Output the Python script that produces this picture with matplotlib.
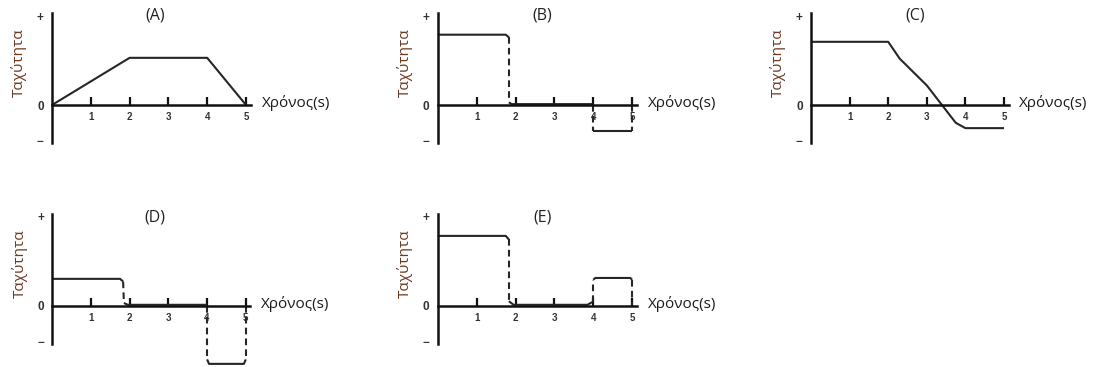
import matplotlib
matplotlib.use("Agg")
import matplotlib.pyplot as plt

# ---------------- data ----------------
panel_titles = ["(A)", "(B)", "(C)", "(D)", "(E)"]
x_ticks = [1, 2, 3, 4, 5]
x_tick_labels = ["1", "2", "3", "4", "5"]
y_tick_values = [-0.4, 0.0, 1.0]
y_tick_labels = ["\u2212", "0", "+"]
y_label = "Ταχύτητα"
x_label = "Χρόνος(s)"

# (A)
a_t = [0, 2, 4, 5]
a_v = [0, 0.53, 0.53, 0]
# (B)
b_solid = [([0, 1.75, 1.83], [0.79, 0.79, 0.76]),
           ([1.83, 1.9, 4.0], [0.03, 0.01, 0.01]),
           ([4.0, 5.0], [-0.29, -0.29])]
b_dashed = [([1.83, 1.83], [0.76, 0.03]),
            ([4.0, 4.0], [0.0, -0.29]),
            ([5.0, 5.0], [0.0, -0.29])]
# (C)
c_t = [0, 2, 2.3, 3, 3.75, 4, 5]
c_v = [0.71, 0.71, 0.52, 0.22, -0.2, -0.26, -0.26]
# (D)
d_solid = [([0, 1.75, 1.83], [0.30, 0.30, 0.27]),
           ([1.85, 1.95, 4.0], [0.03, 0.01, 0.01]),
           ([4.0, 4.05, 4.95, 5.0], [-0.6, -0.65, -0.65, -0.6])]
d_dashed = [([1.83, 1.85], [0.27, 0.03]),
            ([4.0, 4.0], [0.0, -0.6]),
            ([5.0, 5.0], [0.0, -0.6])]
# (E)
e_solid = [([0, 1.75, 1.83], [0.78, 0.78, 0.74]),
           ([1.83, 1.95, 3.85, 3.97], [0.05, 0.01, 0.01, 0.04]),
           ([4.0, 4.05, 4.95, 5.0], [0.29, 0.31, 0.31, 0.29])]
e_dashed = [([1.83, 1.83], [0.74, 0.05]),
            ([4.0, 4.0], [0.04, 0.29]),
            ([5.0, 5.0], [0.29, 0.0])]

# ---------------- layout ----------------
W, H = 1093, 367
fig = plt.figure(figsize=(W / 100, H / 100), dpi=100)

# (x0 px of y-axis, px per second, y px of zero line, px per unit of y)
layout = [
    (52.0, 38.8, 105.0, 89.0),
    (437.7, 38.9, 105.0, 89.0),
    (811.0, 38.6, 105.0, 89.0),
    (52.3, 38.7, 305.7, 89.5),
    (437.7, 38.9, 305.7, 89.5),
]
XL = (-0.6, 5.6)
YL = (-0.9, 1.15)

line_col = "#262626"
axis_col = "#111111"
ylab_col = "#6b3a22"


def make_ax(x0, u, y0, yu):
    left = x0 + XL[0] * u
    width = (XL[1] - XL[0]) * u
    bottom = H - (y0 - YL[0] * yu)
    height = (YL[1] - YL[0]) * yu
    ax = fig.add_axes([left / W, bottom / H, width / W, height / H])
    ax.set_xlim(*XL)
    ax.set_ylim(*YL)
    ax.patch.set_visible(False)
    for s in ["top", "right"]:
        ax.spines[s].set_visible(False)
    ax.spines["left"].set_position(("data", 0))
    ax.spines["bottom"].set_position(("data", 0))
    ax.spines["left"].set_bounds(-0.43, 1.03)
    ax.spines["bottom"].set_bounds(0, 5.12)
    for s in ["left", "bottom"]:
        ax.spines[s].set_linewidth(1.8)
        ax.spines[s].set_color(axis_col)
    ax.set_xticks(x_ticks)
    ax.set_xticklabels(x_tick_labels, fontsize=7, family="Liberation Sans",
                       color="#333333", fontweight="bold")
    ax.tick_params(axis="x", direction="in", length=6, width=1.6,
                   color=axis_col, pad=5)
    ax.set_yticks(y_tick_values)
    ax.set_yticklabels(y_tick_labels, fontsize=8.5, family="Liberation Sans",
                       color="#333333", fontweight="bold")
    ax.tick_params(axis="y", length=0, pad=6)
    return ax


for i, (x0, u, y0, yu) in enumerate(layout):
    ax = make_ax(x0, u, y0, yu)
    ax.text(2.65 if i in (0, 3) else 2.7, 1.01 if i < 3 else 0.99, panel_titles[i],
            fontsize=11.5, family="Open Sans", color="#222222",
            ha="center", va="center")
    ax.text(-0.85, 0.47, y_label, rotation=90, fontsize=11, family="Open Sans",
            color=ylab_col, ha="center", va="center")
    ax.text(5.4, 0.02, x_label, fontsize=11, family="Open Sans",
            color="#1a1a1a", ha="left", va="center")

axes = fig.axes
kw = dict(color=line_col, lw=1.5, clip_on=False, solid_capstyle="butt")
dkw = dict(color=line_col, lw=1.5, clip_on=False, linestyle=(0, (3.2, 2.0)))

axes[0].plot(a_t, a_v, **kw)
for xs, ys in b_solid:
    axes[1].plot(xs, ys, **kw)
for xs, ys in b_dashed:
    axes[1].plot(xs, ys, **dkw)
axes[2].plot(c_t, c_v, **kw)
for xs, ys in d_solid:
    axes[3].plot(xs, ys, **kw)
for xs, ys in d_dashed:
    axes[3].plot(xs, ys, **dkw)
for xs, ys in e_solid:
    axes[4].plot(xs, ys, **kw)
for xs, ys in e_dashed:
    axes[4].plot(xs, ys, **dkw)

fig.savefig("out.png", dpi=100)
